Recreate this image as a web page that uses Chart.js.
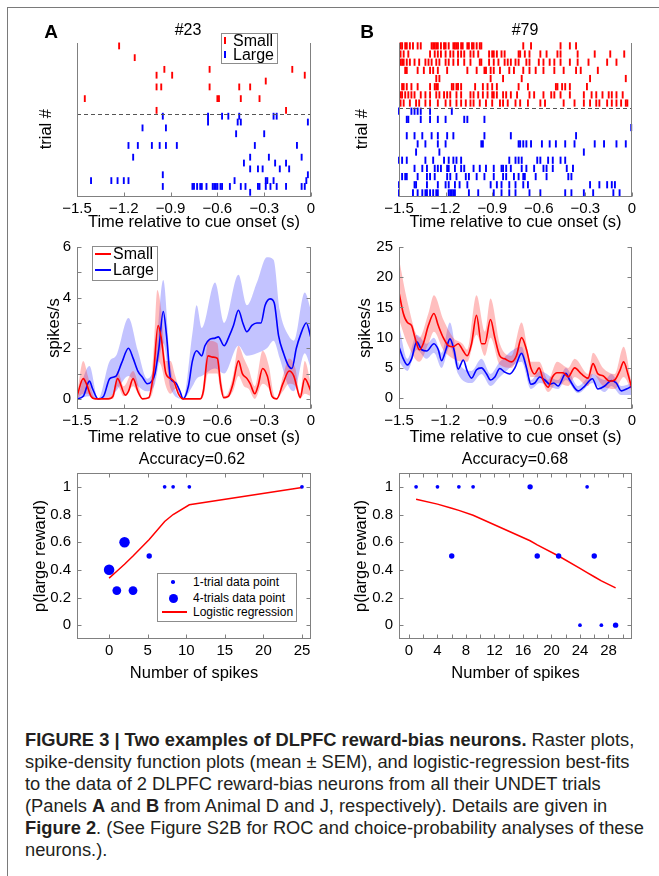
<!DOCTYPE html>
<html>
<head>
<meta charset="utf-8">
<script src="https://cdn.jsdelivr.net/npm/chart.js@4.4.1/dist/chart.umd.min.js"></script>
<style>
  body { margin: 0; width: 659px; height: 876px; position: relative; overflow: hidden; background: #fff;
         font-family: "Liberation Sans", Arial, sans-serif; color: #000; }
  canvas { position: absolute; }
  .frame { position: absolute; left: 7px; top: 7px; right: -5px; bottom: -5px;
           border-top: 1.5px solid #7a7a7a; border-left: 1.5px solid #7a7a7a; }
  .t { position: absolute; white-space: nowrap; transform: translate(-50%, -50%); }
  .letter { font-weight: bold; font-size: 19px; }
  .lg { position: absolute; border: 1px solid #8c8c8c; background: #fff; }
  .lgtext { position: absolute; white-space: nowrap; transform: translateY(-50%); }
  .caption { position: absolute; left: 25px; top: 729px; font-size: 18.3px; line-height: 22px; color: #231f20; }
  .caption div { white-space: nowrap; }
</style>
</head>
<body>
<div class="frame"></div>

<canvas id="rasterA" width="306" height="203" style="left:20px;top:29px"></canvas>
<canvas id="rasterB" width="302" height="203" style="left:345px;top:29px"></canvas>
<canvas id="sdfA" width="306" height="215" style="left:20px;top:232px"></canvas>
<canvas id="sdfB" width="302" height="215" style="left:345px;top:232px"></canvas>
<canvas id="logA" width="306" height="225" style="left:20px;top:458px"></canvas>
<canvas id="logB" width="302" height="225" style="left:345px;top:458px"></canvas>

<div class="t letter" style="left:51px;top:32px">A</div>
<div class="t letter" style="left:367px;top:32px">B</div>
<div class="t" style="left:188px;top:30px;font-size:16px">#23</div>
<div class="t" style="left:525px;top:30px;font-size:16px">#79</div>
<div class="t" style="left:192px;top:459px;font-size:16px">Accuracy=0.62</div>
<div class="t" style="left:515px;top:459px;font-size:16px">Accuracy=0.68</div>

<!-- raster legend -->
<div class="lg" style="left:221px;top:33px;width:55px;height:29px"></div>
<div style="position:absolute;left:224px;top:37px;width:2px;height:7px;background:#f00"></div>
<div class="lgtext" style="left:233px;top:41px;font-size:16px">Small</div>
<div style="position:absolute;left:224px;top:51px;width:2px;height:7px;background:#00f"></div>
<div class="lgtext" style="left:233px;top:55px;font-size:16px">Large</div>

<!-- sdf legend -->
<div class="lg" style="left:92px;top:246px;width:64px;height:33px"></div>
<div style="position:absolute;left:95px;top:253px;width:16px;height:1.6px;background:#f00"></div>
<div class="lgtext" style="left:113px;top:254px;font-size:16px">Small</div>
<div style="position:absolute;left:95px;top:269px;width:16px;height:1.6px;background:#00f"></div>
<div class="lgtext" style="left:113px;top:270px;font-size:16px">Large</div>

<!-- logistic legend -->
<div class="lg" style="left:157px;top:573px;width:138px;height:47px"></div>
<div style="position:absolute;left:171px;top:580px;width:3.6px;height:3.6px;border-radius:50%;background:#00f"></div>
<div class="lgtext" style="left:193px;top:582px;font-size:12px">1-trial data point</div>
<div style="position:absolute;left:168.5px;top:593.5px;width:9px;height:9px;border-radius:50%;background:#00f"></div>
<div class="lgtext" style="left:193px;top:598px;font-size:12px">4-trials data point</div>
<div style="position:absolute;left:162px;top:611px;width:25px;height:1.5px;background:#f00"></div>
<div class="lgtext" style="left:193px;top:612px;font-size:12px">Logistic regression</div>

<div class="caption">
  <div><b>FIGURE 3 | Two examples of DLPFC reward-bias neurons.</b> Raster plots,</div>
  <div>spike-density function plots (mean ± SEM), and logistic-regression best-fits</div>
  <div>to the data of 2 DLPFC reward-bias neurons from all their UNDET trials</div>
  <div>(Panels <b>A</b> and <b>B</b> from Animal D and J, respectively). Details are given in</div>
  <div><b>Figure 2</b>. (See Figure S2B for ROC and choice-probability analyses of these</div>
  <div>neurons.).</div>
</div>

<script>
// ---- tick values ----
const timeTicks = [-1.5, -1.2, -0.9, -0.6, -0.3, 0];
const rateTicksA = [0, 1, 2, 3, 4, 5, 6];
const rateTicksB = [0, 5, 10, 15, 20, 25];
const probTicks = [0, 0.2, 0.4, 0.6, 0.8, 1];
const spikeTicksA = [0, 5, 10, 15, 20, 25];
const spikeTicksB = [0, 2, 4, 6, 8, 10, 12, 14, 16, 18, 20, 22, 24, 26, 28, 30];

// ---- raster A: spike times (s) per trial, top to bottom ----
const smallTrialsA = [
  [-1.23], [], [-1.13], [],
  [-0.94, -0.65, -0.12],
  [-0.99, -0.89, -0.04],
  [-0.29],
  [-0.99, -0.96, -0.65, -0.46, -0.39],
  [],
  [-1.45, -0.60, -0.59, -0.45, -0.33],
  [],
  [-0.99, -0.16]
];
const largeTrialsA = [
  [-0.95, -0.66, -0.57, -0.53, -0.46, -0.24, -0.22],
  [-0.66, -0.47, -0.45, -0.02],
  [-1.08, -0.93],
  [-0.48, -0.30],
  [],
  [-1.17, -1.11, -1.02, -0.97, -0.93, -0.86, -0.36, -0.09],
  [],
  [-1.14, -0.39, -0.27, -0.06],
  [-0.43, -0.23, -0.16],
  [-0.39, -0.34, -0.31, -0.20, -0.14],
  [-0.95, -0.02],
  [-1.41, -1.28, -1.24, -1.20, -1.17, -0.49, -0.29, -0.28, -0.24, -0.03],
  [-0.95, -0.76, -0.75, -0.73, -0.71, -0.70, -0.67, -0.63, -0.62, -0.61, -0.60, -0.58, -0.57,
   -0.52, -0.45, -0.42, -0.34, -0.33, -0.29, -0.26, -0.22, -0.16, -0.06, -0.04],
  [-0.39]
];

// ---- raster B ----
const smallTrialsB = [
  [-1.49, -1.48, -1.46, -1.45, -1.43, -1.41, -1.38, -1.36, -1.29, -1.28, -1.27, -1.26, -1.25, -1.23, -1.21,
   -1.20, -1.18, -1.15, -1.14, -1.13, -1.12, -1.10, -1.09, -1.06, -1.05, -1.03, -1.02, -1.00, -0.98, -0.97,
   -0.70, -0.65, -0.46, -0.40, -0.36],
  [-1.49, -1.47, -1.44, -1.30, -1.27, -1.25, -1.23, -1.20, -1.17, -1.15, -1.12, -1.10, -1.08, -1.04, -1.02,
   -0.99, -0.92, -0.90, -0.89, -0.87, -0.84, -0.82, -0.73, -0.72, -0.69, -0.66, -0.59, -0.55, -0.48, -0.46,
   -0.35, -0.24, -0.14, -0.05],
  [-1.49, -1.48, -1.47, -1.45, -1.43, -1.40, -1.37, -1.33, -1.31, -1.29, -1.26, -1.24, -1.20, -1.18, -1.15,
   -1.12, -1.08, -1.04, -0.98, -0.97, -0.92, -0.89, -0.86, -0.82, -0.80, -0.78, -0.75, -0.73, -0.68, -0.66,
   -0.60, -0.57, -0.53, -0.50, -0.46, -0.40, -0.35, -0.28, -0.16, -0.10],
  [-1.46, -1.45, -1.38, -1.34, -1.30, -1.28, -1.25, -1.19, -1.06, -1.00, -0.95, -0.94, -0.91, -0.89, -0.85,
   -0.79, -0.76, -0.70, -0.66, -0.62, -0.57, -0.50, -0.44, -0.36, -0.33, -0.22],
  [-1.26, -1.24, -0.91, -0.83, -0.71, -0.27, -0.04],
  [-1.48, -1.47, -1.45, -1.42, -1.38, -1.30, -1.27, -1.26, -1.25, -1.16, -1.15, -1.13, -1.12, -1.10, -1.01,
   -0.96, -0.93, -0.90, -0.87, -0.73, -0.67, -0.49, -0.48, -0.45, -0.43, -0.40, -0.29],
  [-1.49, -1.48, -1.46, -1.44, -1.42, -1.40, -1.36, -1.33, -1.30, -1.26, -1.24, -1.21, -1.19, -1.17, -1.13,
   -1.10, -1.04, -1.02, -0.99, -0.96, -0.93, -0.90, -0.89, -0.87, -0.83, -0.81, -0.78, -0.74, -0.66, -0.63,
   -0.57, -0.52, -0.50, -0.46, -0.40, -0.31, -0.26, -0.23, -0.19, -0.15, -0.13, -0.10, -0.06],
  [-1.49, -1.47, -1.43, -1.39, -1.37, -1.33, -1.30, -1.25, -1.20, -1.17, -1.13, -1.10, -1.07, -1.04, -1.02,
   -0.98, -0.94, -0.90, -0.85, -0.83, -0.80, -0.75, -0.72, -0.67, -0.59, -0.56, -0.44, -0.37, -0.31, -0.27,
   -0.23, -0.21, -0.16, -0.13, -0.10, -0.07, -0.04, -0.03]
];
const largeTrialsB = [
  [-1.50, -1.42, -1.40, -1.38, -1.36, -1.30, -1.16],
  [-1.45, -1.44, -1.36, -1.30, -1.25, -1.20, -1.08, -1.06, -0.95],
  [-0.005],
  [-1.45, -1.40, -1.35, -1.29, -1.25, -1.19, -1.15, -0.95, -0.78, -0.36],
  [-1.38, -1.33, -1.25, -1.20, -0.97, -0.96, -0.73, -0.72, -0.70, -0.68, -0.65, -0.58, -0.53, -0.49, -0.43,
   -0.37, -0.24, -0.18, -0.10, -0.04],
  [-1.39, -1.24, -0.31],
  [-1.50, -1.48, -1.45, -1.33, -1.28, -1.21, -1.18, -1.15, -1.13, -1.10, -0.79, -0.75, -0.73, -0.71, -0.61,
   -0.59, -0.54, -0.51, -0.46, -0.43],
  [-1.40, -1.35, -1.32, -1.27, -1.25, -1.23, -1.19, -1.18, -1.14, -1.10, -1.08, -1.02, -0.98, -0.94, -0.89,
   -0.84, -0.83, -0.81, -0.78, -0.71, -0.68, -0.63, -0.57, -0.55, -0.51, -0.42, -0.38],
  [-1.48, -1.46, -1.45, -1.38, -1.32, -1.30, -1.27, -1.19, -1.17, -1.13, -1.07, -1.05, -1.00, -0.95, -0.89,
   -0.83, -0.81, -0.76, -0.73, -0.70, -0.69, -0.62, -0.55, -0.41, -0.39],
  [-1.50, -1.40, -1.39, -1.32, -1.25, -1.20, -1.18, -1.14, -1.11, -1.06, -0.91, -0.87, -0.84, -0.79, -0.75,
   -0.70, -0.67, -0.27, -0.21, -0.16, -0.13, -0.11],
  [-1.50, -1.41, -1.38, -1.35, -1.33, -1.32, -1.30, -1.28, -1.26, -1.25, -1.18, -1.17, -1.16, -1.15, -1.14,
   -1.05, -0.99, -0.89, -0.84, -0.79, -0.75, -0.66, -0.59, -0.43, -0.39, -0.31, -0.25, -0.12, -0.08]
];

// ---- spike density, panel A (spikes/s) ----
const sdfTimeSmallA = [-1.50, -1.46, -1.44, -1.41, -1.38, -1.30, -1.27, -1.24, -1.19, -1.17, -1.14, -1.11, -1.08,
  -1.04, -1.01, -0.98, -0.96, -0.93, -0.90, -0.88, -0.85, -0.82, -0.71, -0.69, -0.66, -0.63, -0.60, -0.58, -0.56,
  -0.53, -0.50, -0.465, -0.44, -0.41, -0.39, -0.36, -0.34, -0.31, -0.28, -0.25, -0.22, -0.18, -0.14, -0.11, -0.08,
  -0.07, -0.04, 0];
const sdfSmallA = [0.1, 0.8, 0.6, 0.1, 0, 0, 0.1, 0.8, 0.15, 0.3, 0.8, 0.3, 0,
  0.05, 1.0, 2.9, 2.4, 1.0, 0.8, 0.7, 0.2, 0, 0, 0.3, 1.7, 1.65, 1.6, 0.6, 0.05,
  0.1, 0.6, 1.5, 1.0, 0.8, 0.6, 0.2, 0.5, 1.2, 0.9, 0.1, 0, 0.6, 1.1, 0.9, 0.2,
  0.05, 0.8, 0.3];
const bandTimeSmallA = [-1.50, -1.46, -1.43, -1.40, -1.38, -1.27, -1.24, -1.20, -1.14, -1.10, -1.08, -1.04, -1.01,
  -0.985, -0.96, -0.93, -0.90, -0.87, -0.84, -0.82, -0.71, -0.69, -0.66, -0.60, -0.58, -0.55, -0.50, -0.465,
  -0.43, -0.40, -0.36, -0.31, -0.27, -0.24, -0.22, -0.18, -0.14, -0.10, -0.07, -0.04, 0];
const bandUpSmallA = [0.2, 1.5, 0.9, 0.2, 0, 0.2, 1.1, 0.5, 1.1, 0.4, 0, 0.1, 1.8,
  4.3, 3.5, 1.5, 1.5, 0.9, 0.3, 0, 0, 0.6, 2.3, 2.2, 1.0, 0.1, 0.9, 2.1,
  1.6, 1.2, 0.5, 1.9, 1.3, 0.2, 0, 0.9, 1.6, 1.2, 0.2, 1.5, 0.6];
const bandLoSmallA = [0, 0.2, 0.2, 0, 0, 0, 0.5, 0.1, 0.5, 0.1, 0, 0, 0.4,
  1.5, 1.3, 0.5, 0.2, 0.4, 0.1, 0, 0, 0.1, 1.0, 1.0, 0.3, 0, 0.3, 0.9,
  0.5, 0.4, 0, 0.6, 0.4, 0, 0, 0.3, 0.6, 0.5, 0, 0.2, 0.1];

const sdfTimeLargeA = [-1.50, -1.46, -1.42, -1.40, -1.365, -1.33, -1.29, -1.25, -1.215, -1.17, -1.14, -1.11, -1.08,
  -1.05, -1.02, -1.00, -0.975, -0.947, -0.926, -0.90, -0.87, -0.84, -0.82, -0.786, -0.76, -0.733, -0.70, -0.68,
  -0.65, -0.615, -0.594, -0.557, -0.523, -0.497, -0.465, -0.437, -0.411, -0.379, -0.347, -0.321, -0.294, -0.262,
  -0.236, -0.208, -0.176, -0.144, -0.122, -0.094, -0.069, -0.03, 0];
const sdfLargeA = [0, 0.1, 0.7, 0.4, 0, 0.1, 0.8, 0.9, 1.4, 2.0, 1.6, 1.1, 0.85,
  0.6, 0.7, 1.0, 2.0, 3.45, 2.5, 0.8, 0.65, 0.3, 0, 0.5, 1.5, 1.9, 1.7, 2.1,
  2.35, 2.4, 2.45, 2.1, 2.5, 2.9, 3.5, 3.0, 2.65, 2.9, 3.0, 3.0, 3.7, 3.95,
  3.8, 2.5, 1.8, 1.3, 1.2, 2.0, 2.5, 3.0, 2.4];
const bandTimeLargeA = [-1.50, -1.42, -1.365, -1.29, -1.25, -1.17, -1.11, -1.05, -1.00, -0.947, -0.90, -0.82,
  -0.76, -0.733, -0.70, -0.615, -0.557, -0.465, -0.411, -0.347, -0.283, -0.24, -0.20, -0.144, -0.11, -0.04, 0];
const bandUpLargeA = [0, 1.3, 0, 1.5, 1.7, 3.2, 1.9, 0.8, 1.5, 4.7, 1.3, 0,
  2.6, 3.7, 2.8, 4.6, 3.0, 4.9, 3.7, 4.6, 5.6, 5.5, 3.5, 2.5, 2.3, 4.2, 3.5];
const bandLoLargeA = [0, 0.1, 0, 0.1, 0.3, 0.9, 0.5, 0.3, 0.6, 2.2, 0.4, 0,
  0.5, 0.8, 0.9, 1.2, 1.0, 2.1, 1.7, 1.8, 2.0, 2.3, 1.6, 0.5, 0.3, 1.8, 1.2];

// ---- spike density, panel B ----
const sdfTimeSmallB = [-1.50, -1.472, -1.446, -1.419, -1.397, -1.369, -1.344, -1.311, -1.275, -1.247, -1.215,
  -1.183, -1.151, -1.119, -1.091, -1.061, -1.033, -1.001, -0.969, -0.947, -0.911, -0.883, -0.851, -0.819, -0.776,
  -0.744, -0.711, -0.679, -0.651, -0.626, -0.598, -0.572, -0.54, -0.512, -0.482, -0.444, -0.411, -0.369, -0.326,
  -0.283, -0.251, -0.219, -0.187, -0.144, -0.111, -0.079, -0.054, -0.026, 0];
const sdfSmallB = [17.5, 14, 12.5, 12, 10, 8, 9, 12, 14, 12, 10,
  8.7, 8.5, 9, 8, 7, 9, 13.7, 9, 9, 13, 10, 7, 6.5, 6,
  7, 10, 8, 5, 4, 5, 3, 1.8, 3.5, 4.2, 4.2, 3.5, 5, 4,
  3.3, 5.7, 4, 3.7, 2.8, 3, 4.5, 6, 4, 1.5];
const bandTimeSmallB = [-1.50, -1.446, -1.369, -1.311, -1.275, -1.215, -1.151, -1.091, -1.061, -1.001, -0.947,
  -0.911, -0.851, -0.776, -0.711, -0.651, -0.598, -0.54, -0.482, -0.411, -0.369, -0.283, -0.251, -0.187, -0.111,
  -0.054, 0];
const bandUpSmallB = [23, 16, 10, 14, 17, 13, 10, 9, 8, 17, 11,
  16.5, 9, 7, 12.5, 6, 6, 3, 6, 5, 6.5, 4, 7.5, 5, 4,
  8.5, 2];
const bandLoSmallB = [13, 9, 6, 9, 11, 8, 6.5, 6, 6, 10.5, 7,
  10, 5.5, 5, 7.5, 3.5, 3.5, 1, 2.5, 2, 3.5, 2, 4, 2, 1.5,
  3.5, 1];

const sdfTimeLargeB = [-1.50, -1.472, -1.446, -1.419, -1.386, -1.354, -1.322, -1.275, -1.247, -1.226, -1.198,
  -1.172, -1.146, -1.119, -1.086, -1.061, -1.033, -1.001, -0.969, -0.936, -0.911, -0.883, -0.851, -0.819, -0.786,
  -0.754, -0.711, -0.679, -0.651, -0.626, -0.594, -0.561, -0.529, -0.504, -0.476, -0.426, -0.401, -0.347, -0.304,
  -0.255, -0.219, -0.176, -0.133, -0.101, -0.069, -0.036, 0];
const sdfLargeB = [8.5, 6.5, 5.5, 6.5, 9.3, 8, 7.8, 9, 8, 6.2, 8,
  9.8, 8, 4.8, 6.3, 4.5, 3.3, 4.7, 5, 4, 3, 3.5, 4.9, 4.3, 4,
  5, 7.4, 5, 2.3, 2.5, 3.5, 3, 2.3, 2.5, 2, 4.1, 3, 1.2, 2,
  3.2, 1.5, 2, 2.9, 2.5, 1.2, 1.5, 2];
const bandTimeLargeB = [-1.50, -1.446, -1.386, -1.322, -1.275, -1.226, -1.172, -1.119, -1.033, -0.969, -0.911,
  -0.851, -0.711, -0.651, -0.594, -0.476, -0.426, -0.347, -0.255, -0.176, -0.133, -0.069, 0];
const bandUpLargeB = [12, 6.5, 10.5, 9, 10, 7.5, 12.5, 6, 4.5, 6.5, 4,
  6, 8.5, 3, 4.5, 3, 5, 2, 4, 3, 4, 2, 2.5];
const bandLoLargeB = [6, 4.5, 8, 6.5, 7.5, 5, 8.5, 4, 2.5, 4, 2,
  3.5, 6, 1.5, 2.5, 1.5, 3, 0.8, 2.5, 1, 2, 0.5, 0.5];

// ---- logistic regression data ----
const spikesA = [0, 1, 2, 3.1, 5.2, 7.2, 8.3, 10.4, 25];
const pLargeA = [0.4, 0.25, 0.6, 0.25, 0.5, 1, 1, 1, 1];
const nTrialsA = [5, 4, 5, 4, 2, 1, 1, 1, 1];
const fitA = [0.34, 0.39, 0.44, 0.50, 0.62, 0.75, 0.80, 0.87, 0.995];

const spikesB = [1, 4, 6, 7, 9, 17, 18, 21, 24, 25, 26, 27, 29];
const pLargeB = [1, 1, 0.5, 1, 1, 1, 0.5, 0.5, 0, 1, 0.5, 0, 0];
const nTrialsB = [1, 1, 2, 1, 1, 2, 2, 2, 1, 1, 2, 1, 2];
const fitB = [0.91, 0.875, 0.845, 0.83, 0.795, 0.61, 0.58, 0.50, 0.41, 0.38, 0.35, 0.32, 0.27];

// ---- helpers ----
Chart.defaults.font.family = '"Liberation Sans", Arial, sans-serif';
Chart.defaults.color = '#000';

const RED = '#ff0000';
const BLUE = '#0000ff';

const pts = (xs, ys) => xs.map((x, i) => ({ x: x, y: ys[i] }));

function rasterPoints(trials, firstRow) {
  const out = [];
  trials.forEach((spikes, i) => spikes.forEach(t => out.push({ x: t, y: firstRow + i })));
  return out;
}

const fmtTime = v => Math.abs(v) < 1e-9 ? '0' : v.toFixed(1).replace('-', '\u2212');

// axis box + inward tick marks + optional dashed divider
const framePlugin = {
  id: 'frame',
  afterDatasetsDraw(chart, args, opts) {
    const { ctx, chartArea: a, scales } = chart;
    const sides = opts.sides || '';
    const len = 4;
    ctx.save();
    const seg = (x1, y1, x2, y2) => { ctx.beginPath(); ctx.moveTo(x1, y1); ctx.lineTo(x2, y2); ctx.stroke(); };

    if (opts.dashY !== undefined) {
      const y = Math.round(scales.y.getPixelForValue(opts.dashY)) + 0.5;
      ctx.strokeStyle = '#555';
      ctx.lineWidth = 1;
      ctx.setLineDash([4, 3]);
      seg(a.left, y, a.right, y);
      ctx.setLineDash([]);
    }

    ctx.strokeStyle = '#808080';
    ctx.lineWidth = 1;
    const L = Math.round(a.left) + 0.5, R = Math.round(a.right) - 0.5;
    const T = Math.round(a.top) + 0.5, B = Math.round(a.bottom) - 0.5;
    if (sides.includes('l')) seg(L, a.top, L, a.bottom);
    if (sides.includes('r')) seg(R, a.top, R, a.bottom);
    if (sides.includes('b')) seg(a.left, B, a.right, B);
    if (sides.includes('t')) seg(a.left, T, a.right, T);

    scales.x.ticks.forEach(t => {
      const x = Math.round(scales.x.getPixelForValue(t.value)) + 0.5;
      if (sides.includes('b')) seg(x, B, x, B - len);
      if (sides.includes('t')) seg(x, T, x, T + len);
    });
    scales.y.ticks.forEach(t => {
      const y = Math.round(scales.y.getPixelForValue(t.value)) + 0.5;
      if (sides.includes('l')) seg(L, y, L + len, y);
      if (sides.includes('r')) seg(R, y, R - len, y);
    });
    ctx.restore();
  }
};

// canvas position (L,T,W,H) and wanted plot box [left, top, right, bottom] in page pixels
function makePanel(id, geo, cfg) {
  const [pl, pt, pr, pb] = geo.plot;
  return new Chart(document.getElementById(id), {
    type: 'scatter',
    data: { datasets: cfg.datasets },
    options: {
      responsive: false,
      animation: false,
      events: [],
      layout: { padding: { left: 0, top: pt - geo.T, right: geo.L + geo.W - pr, bottom: 0 } },
      plugins: { legend: { display: false }, tooltip: { enabled: false }, frame: cfg.frame },
      scales: {
        x: {
          type: 'linear', position: 'bottom', min: cfg.xMin, max: cfg.xMax,
          afterBuildTicks: s => { s.ticks = cfg.xTicks.map(v => ({ value: v })); },
          afterFit: s => { s.height = geo.T + geo.H - pb; },
          grid: { display: false, drawTicks: false },
          border: { display: false },
          ticks: { padding: 3, autoSkip: false, maxRotation: 0, font: { size: 15 }, callback: cfg.xFmt },
          title: { display: true, text: cfg.xTitle, font: { size: 16.5 }, padding: 0 }
        },
        y: {
          type: 'linear', position: 'left', min: cfg.yMin, max: cfg.yMax, reverse: !!cfg.yReverse,
          afterBuildTicks: s => { s.ticks = cfg.yTicks.map(v => ({ value: v })); },
          afterFit: s => { s.width = pl - geo.L; },
          grid: { display: false, drawTicks: false },
          border: { display: false },
          ticks: { padding: 6, autoSkip: false, font: { size: 15 }, callback: cfg.yFmt },
          title: { display: true, text: cfg.yTitle, font: { size: 16.5 }, padding: { top: cfg.yTitlePad, bottom: 0 } }
        }
      }
    },
    plugins: [framePlugin]
  });
}

function rasterSet(points, color, r) {
  return { data: points, pointStyle: 'line', rotation: 90, pointRadius: r, borderColor: color,
           borderWidth: 1.9, showLine: false, clip: false };
}
function meanLine(xs, ys, color) {
  return { data: pts(xs, ys), showLine: true, borderColor: color, borderWidth: 1.6, pointRadius: 0,
           cubicInterpolationMode: 'monotone', fill: false };
}
function bandPair(xs, up, lo, color) {
  return [
    { data: pts(xs, up), showLine: true, borderColor: 'rgba(0,0,0,0)', borderWidth: 0, pointRadius: 0,
      cubicInterpolationMode: 'monotone', fill: '+1', backgroundColor: color },
    { data: pts(xs, lo), showLine: true, borderColor: 'rgba(0,0,0,0)', borderWidth: 0, pointRadius: 0,
      cubicInterpolationMode: 'monotone', fill: false }
  ];
}
const dotRadius = n => 1 + 0.85 * n;
function dotSet(xs, ys, ns) {
  return { data: pts(xs, ys), pointRadius: ctx => dotRadius(ns[ctx.dataIndex] || 1), pointStyle: 'circle',
           backgroundColor: BLUE, borderWidth: 0, showLine: false };
}
function fitSet(xs, ys) {
  return { data: pts(xs, ys), showLine: true, borderColor: RED, borderWidth: 1.5, pointRadius: 0, fill: false };
}

const noLabel = () => '';
const probFmt = v => String(Math.round(v * 10) / 10);
// trailing no-break spaces nudge the rotated label a little lower, as in the original
const trialLabel = 'trial #\u00a0\u00a0\u00a0\u00a0';

// ---- raster panels ----
makePanel('rasterA', { L: 20, T: 29, W: 306, H: 203, plot: [77, 43, 311, 197] }, {
  datasets: [rasterSet(rasterPoints(smallTrialsA, 0), RED, 3.4),
             rasterSet(rasterPoints(largeTrialsA, smallTrialsA.length), BLUE, 3.4)],
  xMin: -1.5, xMax: 0, xTicks: timeTicks, xFmt: fmtTime, xTitle: 'Time relative to cue onset (s)',
  yMin: -0.5, yMax: 25.8, yReverse: true, yTicks: [], yFmt: noLabel, yTitle: trialLabel, yTitlePad: 17,
  frame: { sides: 'lrb', dashY: 11.6 }
});
makePanel('rasterB', { L: 345, T: 29, W: 302, H: 203, plot: [399, 43, 632, 197] }, {
  datasets: [rasterSet(rasterPoints(smallTrialsB, 0), RED, 3.6),
             rasterSet(rasterPoints(largeTrialsB, smallTrialsB.length), BLUE, 3.6)],
  xMin: -1.5, xMax: 0, xTicks: timeTicks, xFmt: fmtTime, xTitle: 'Time relative to cue onset (s)',
  yMin: -0.35, yMax: 18.5, yReverse: true, yTicks: [], yFmt: noLabel, yTitle: trialLabel, yTitlePad: 8,
  frame: { sides: 'lrb', dashY: 7.55 }
});

// ---- spike density panels ----
makePanel('sdfA', { L: 20, T: 232, W: 306, H: 215, plot: [77, 246, 311, 409] }, {
  datasets: [meanLine(sdfTimeSmallA, sdfSmallA, RED), meanLine(sdfTimeLargeA, sdfLargeA, BLUE),
             ...bandPair(bandTimeSmallA, bandUpSmallA, bandLoSmallA, 'rgba(255,40,40,0.3)'),
             ...bandPair(bandTimeLargeA, bandUpLargeA, bandLoLargeA, 'rgba(40,40,255,0.28)')],
  xMin: -1.5, xMax: 0, xTicks: timeTicks, xFmt: fmtTime, xTitle: 'Time relative to cue onset (s)',
  yMin: -0.4, yMax: 6, yTicks: rateTicksA, yFmt: v => (v % 2 === 0 ? String(v) : ''),
  yTitle: 'spikes/s', yTitlePad: 25, frame: { sides: 'lrb' }
});
makePanel('sdfB', { L: 345, T: 232, W: 302, H: 215, plot: [399, 245, 632, 409] }, {
  datasets: [meanLine(sdfTimeSmallB, sdfSmallB, RED), meanLine(sdfTimeLargeB, sdfLargeB, BLUE),
             ...bandPair(bandTimeSmallB, bandUpSmallB, bandLoSmallB, 'rgba(255,40,40,0.3)'),
             ...bandPair(bandTimeLargeB, bandUpLargeB, bandLoLargeB, 'rgba(40,40,255,0.28)')],
  xMin: -1.5, xMax: 0, xTicks: timeTicks, xFmt: fmtTime, xTitle: 'Time relative to cue onset (s)',
  yMin: -1.8, yMax: 25, yTicks: rateTicksB, yFmt: v => String(v),
  yTitle: 'spikes/s', yTitlePad: 11, frame: { sides: 'lrb' }
});

// ---- logistic regression panels ----
makePanel('logA', { L: 20, T: 458, W: 306, H: 225, plot: [77, 472, 311, 639] }, {
  datasets: [dotSet(spikesA, pLargeA, nTrialsA), fitSet(spikesA, fitA)],
  xMin: -4.16, xMax: 26.17, xTicks: spikeTicksA, xFmt: v => String(v), xTitle: 'Number of spikes',
  yMin: -0.1, yMax: 1.1, yTicks: probTicks, yFmt: probFmt, yTitle: 'p(large reward)', yTitlePad: 11,
  frame: { sides: 'lrtb' }
});
makePanel('logB', { L: 345, T: 458, W: 302, H: 225, plot: [399, 472, 632, 639] }, {
  datasets: [dotSet(spikesB, pLargeB, nTrialsB), fitSet(spikesB, fitB)],
  xMin: -1.4, xMax: 31.3, xTicks: spikeTicksB, xFmt: v => (v % 4 === 0 ? String(v) : ''), xTitle: 'Number of spikes',
  yMin: -0.1, yMax: 1.1, yTicks: probTicks, yFmt: probFmt, yTitle: 'p(large reward)', yTitlePad: 7,
  frame: { sides: 'lrtb' }
});
</script>
</body>
</html>
